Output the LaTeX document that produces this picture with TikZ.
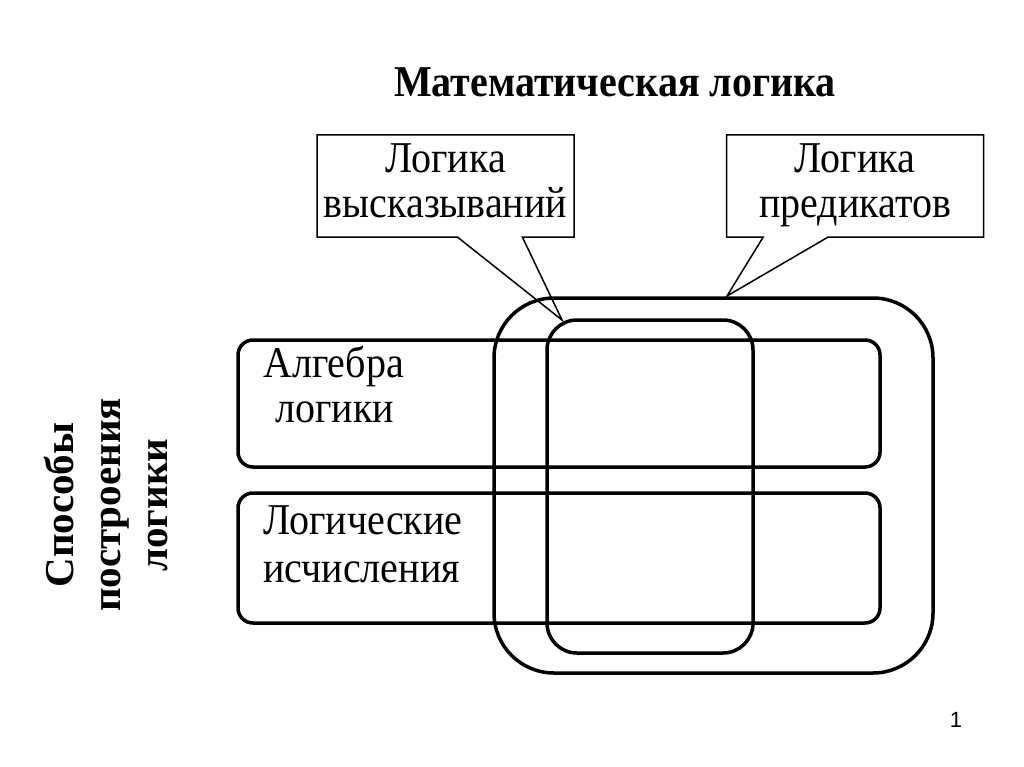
\documentclass[tikz,border=0pt]{standalone}
\usepackage{fontspec}
\setmainfont{Liberation Serif}
\newfontfamily\tallfont[FakeStretch=0.91]{Liberation Serif}
\newfontfamily\pagefont{Liberation Sans}
\usetikzlibrary{shapes.callouts}

\begin{document}
\begin{tikzpicture}[x=1pt,y=-1pt,
  big/.style={font=\tallfont\fontsize{44}{45}\selectfont},
  frame/.style={draw,line width=3.5pt,inner sep=0pt},
  bubble/.style={rectangle callout,draw,line width=1.5pt,big,align=center,
    inner sep=2pt,callout pointer width=65pt,minimum width=257pt,minimum height=102pt}]
\useasboundingbox (0,0) rectangle (1024,767);

\node[font=\tallfont\fontsize{44}{45}\selectfont\bfseries,anchor=base] (title) at (615,97) {Математическая логика};

% boxes
\node[frame,rounded corners=15pt,minimum width=642pt,minimum height=127pt] (alg) at (559,403.5) {};
\node[frame,rounded corners=15pt,minimum width=642pt,minimum height=130pt] (calc) at (559,558) {};
\node[frame,rounded corners=60pt,minimum width=439pt,minimum height=375pt] (pred) at (713.5,485.5) {};
\node[frame,rounded corners=30pt,minimum width=206pt,minimum height=333pt] (stat) at (650,486.5) {};

\node[big,anchor=base west,inner sep=0pt] (algA) at (263,377) {Алгебра};
\node[big,anchor=base west,inner sep=0pt] (algB) at (275,422) {логики};
\node[big,anchor=base west,inner sep=0pt] (calcA) at (263,534) {Логические};
\node[big,anchor=base west,inner sep=0pt] (calcB) at (263,582) {исчисления};

% callouts
\coordinate (tipA) at (562,320);
\coordinate (tipB) at (727,296);
\node[bubble,callout absolute pointer={(tipA)}] (statlbl) at (445.5,186) {Логика\strut\\высказываний\strut};
\node[bubble,callout absolute pointer={(tipB)}] (predlbl) at (855,186) {Логика\strut\\предикатов\strut};

\node[font=\fontsize{41}{47}\selectfont\bfseries,align=center,rotate=90] (ways) at (106,505) {Способы\\построения\\логики};

\node[font=\pagefont\fontsize{22}{26}\selectfont] (page) at (956,720) {1};
\end{tikzpicture}
\end{document}
